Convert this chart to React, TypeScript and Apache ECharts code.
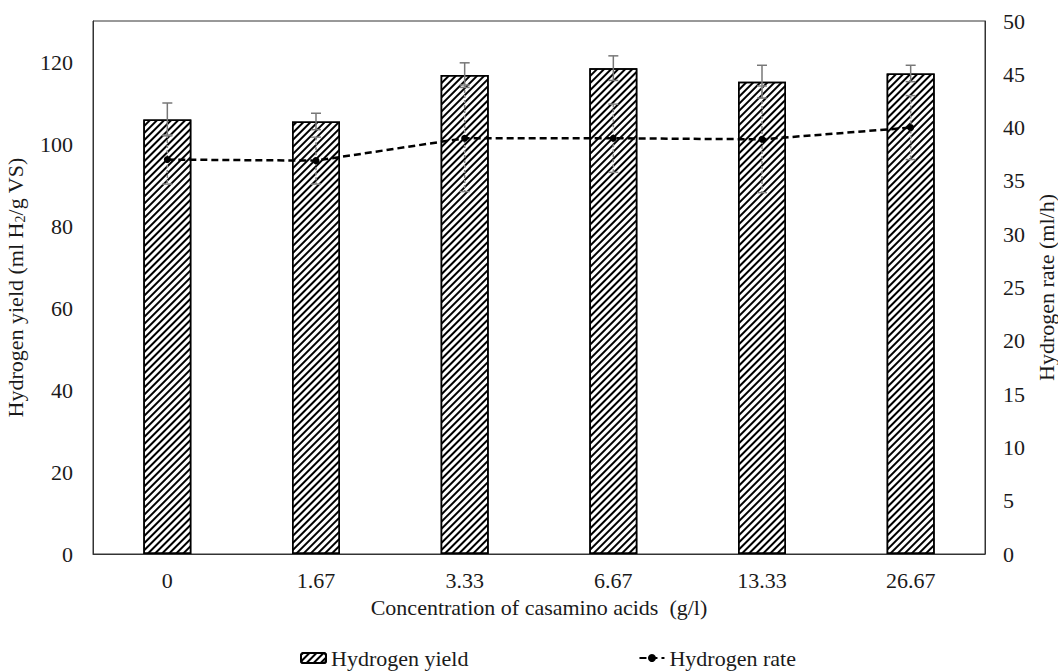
import React, { useEffect, useRef } from "react";
import * as echarts from "echarts";

const categories = ["0", "1.67", "3.33", "6.67", "13.33", "26.67"];
const yieldValues = [106, 105.5, 116.8, 118.5, 115.2, 117.2];
const yieldErrors = [4, 2, 3, 3, 4, 2];
const rateValues = [37, 36.9, 39, 39, 38.9, 40];
const rateErrors = [2.3, 2.2, 5, 3.2, 5, 3];
const leftTicks = [0, 20, 40, 60, 80, 100, 120];
const rightTicks = [0, 5, 10, 15, 20, 25, 30, 35, 40, 45, 50];

const FONT = "'Liberation Serif', 'Times New Roman', serif";
const FS = 22;
const TXT = "#1a1a1a";

function errRender(color: string, dashed: boolean) {
  return (params: any, api: any) => {
    const idx = api.value(0);
    const lo = api.coord([idx, api.value(1)]);
    const hi = api.coord([idx, api.value(2)]);
    const cap = 5;
    const style = { stroke: color, lineWidth: 1.5, lineDash: dashed ? [3, 2] : null };
    return {
      type: "group",
      children: [
        { type: "line", shape: { x1: hi[0], y1: hi[1], x2: lo[0], y2: lo[1] }, style },
        { type: "line", shape: { x1: hi[0] - cap, y1: hi[1], x2: hi[0] + cap, y2: hi[1] }, style: { stroke: color, lineWidth: 1.5 } },
        { type: "line", shape: { x1: lo[0] - cap, y1: lo[1], x2: lo[0] + cap, y2: lo[1] }, style: { stroke: color, lineWidth: 1.5 } },
      ],
    };
  };
}

export default function App() {
  const ref = useRef<HTMLDivElement>(null);
  useEffect(() => {
    if (!ref.current) return;
    const chart = echarts.init(ref.current, null, { renderer: "svg" });
    const hatch = {
      symbol: "rect",
      symbolSize: 1,
      rotation: -Math.PI / 4,
      dashArrayX: [[1, 0]],
      dashArrayY: [1.6, 2.4],
      color: "#000",
    };
    chart.setOption({
      animation: false,
      backgroundColor: "#fff",
      textStyle: { fontFamily: FONT },
      grid: {
        left: 93,
        right: 73,
        top: 21,
        bottom: 118,
        show: true,
        borderColor: "#333",
        borderWidth: 1,
        outerBoundsMode: "none",
        containLabel: false,
      },
      legend: {
        left: 300,
        top: 647,
        padding: 0,
        itemGap: 170,
        itemWidth: 25,
        itemHeight: 10,
        textStyle: { fontFamily: FONT, fontSize: FS, color: TXT },
        data: [
          { name: "Hydrogen yield" },
          { name: "Hydrogen rate", itemStyle: { color: "#000" } },
        ],
      },
      xAxis: {
        type: "category",
        data: categories,
        axisTick: { show: false },
        axisLine: { lineStyle: { color: "#333" } },
        axisLabel: { fontFamily: FONT, fontSize: FS, color: TXT, margin: 15 },
        name: "Concentration of casamino acids  (g/l)",
        nameLocation: "middle",
        nameGap: 42,
        nameTextStyle: { fontFamily: FONT, fontSize: FS, color: TXT },
      },
      yAxis: [
        {
          type: "value",
          min: 0,
          max: 130,
          interval: 20,
          splitLine: { show: false },
          axisLine: { show: true, lineStyle: { color: "#333" } },
          axisTick: { show: false },
          axisLabel: {
            fontFamily: FONT,
            fontSize: FS,
            color: TXT,
            margin: 20,
            formatter: (v: number) => (leftTicks.includes(v) ? String(v) : ""),
          },
          name: "Hydrogen yield (ml H{sub|2}/g VS)",
          nameLocation: "middle",
          nameGap: 66,
          nameTextStyle: {
            fontFamily: FONT,
            fontSize: FS,
            color: TXT,
            rich: { sub: { fontFamily: FONT, fontSize: 14, color: TXT, padding: [10, 0, 0, 0] } },
          },
        },
        {
          type: "value",
          min: 0,
          max: 50,
          interval: 5,
          splitLine: { show: false },
          axisLine: { show: true, lineStyle: { color: "#333" } },
          axisTick: { show: false },
          axisLabel: {
            fontFamily: FONT,
            fontSize: FS,
            color: TXT,
            margin: 18,
            formatter: (v: number) => (rightTicks.includes(v) ? String(v) : ""),
          },
          name: "Hydrogen rate (ml/h)",
          nameLocation: "middle",
          nameGap: 43,
          nameTextStyle: { fontFamily: FONT, fontSize: FS, color: TXT },
        },
      ],
      series: [
        {
          name: "Hydrogen yield",
          type: "bar",
          data: yieldValues,
          barWidth: 48,
          itemStyle: { color: "#fff", borderColor: "#000", borderWidth: 1.5, decal: hatch },
          z: 2,
        },
        {
          name: "yieldErr",
          type: "custom",
          renderItem: errRender("#777", false),
          data: yieldValues.map((v, i) => [i, v - yieldErrors[i], v + yieldErrors[i]]),
          z: 3,
          silent: true,
        },
        {
          name: "rateErr",
          type: "custom",
          yAxisIndex: 1,
          renderItem: errRender("#888", true),
          data: rateValues.map((v, i) => [i, v - rateErrors[i], v + rateErrors[i]]),
          z: 3,
          silent: true,
        },
        {
          name: "Hydrogen rate",
          type: "line",
          yAxisIndex: 1,
          data: rateValues,
          symbol: "circle",
          symbolSize: 7,
          itemStyle: { color: "#000" },
          lineStyle: { color: "#000", width: 2.5, type: [7, 4] },
          z: 5,
        },
      ],
    });
    return () => chart.dispose();
  }, []);
  return (
    <div
      ref={ref}
      style={{ position: "absolute", left: 0, top: 0, width: 1058, height: 672 }}
    />
  );
}
